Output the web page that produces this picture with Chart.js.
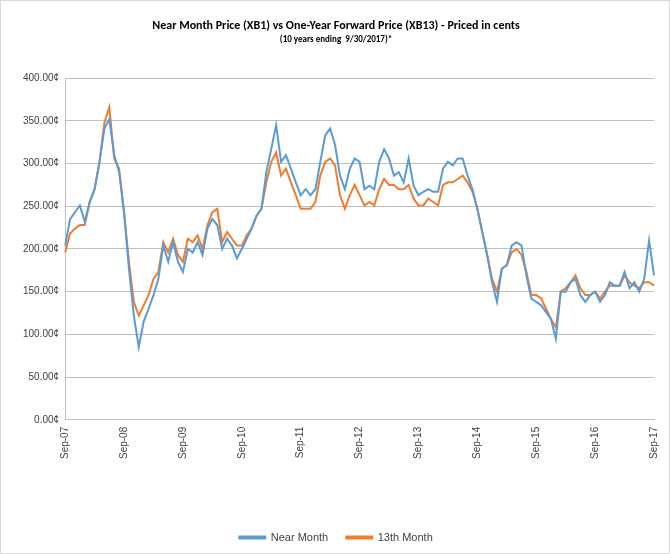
<!DOCTYPE html>
<html>
<head>
<meta charset="utf-8">
<script src="https://cdn.jsdelivr.net/npm/chart.js@4/dist/chart.umd.min.js"></script>
<style>
  body { margin: 0; background: #fff; }
  #wrap { position: absolute; left: 0; top: 0; width: 668px; height: 552px; border: 1px solid #d9d9d9; }
</style>
</head>
<body>
<div id="wrap"><canvas id="c" width="668" height="552"></canvas></div>
<script>
// monthly readings, Sep-07 .. Sep-17 (cents)
const nearMonth = [204, 235, 243, 251, 232, 255, 270, 302, 341, 352, 310, 290, 243, 177, 122, 85, 115, 130, 146, 165,
  204, 185, 208, 185, 173, 200, 196, 208, 193, 224, 235, 228, 200, 212, 204, 189, 200, 212, 224, 239,
  247, 290, 317, 345, 302, 310, 294, 278, 263, 270, 263, 270, 302, 333, 341, 322, 286, 270, 294, 306,
  302, 270, 274, 270, 302, 317, 306, 286, 290, 278, 306, 274, 263, 267, 270, 267, 267, 294, 302, 298,
  306, 306, 286, 270, 247, 220, 193, 161, 138, 177, 181, 204, 208, 204, 169, 142, 138, 134, 126, 118,
  95, 150, 150, 161, 165, 146, 138, 146, 150, 138, 146, 161, 157, 157, 173, 154, 161, 150, 165, 210, 169];
const month13 = [196, 218, 224, 228, 228, 255, 270, 302, 348, 366, 306, 294, 243, 185, 138, 122, 134, 146, 165, 173,
  208, 196, 212, 193, 185, 212, 208, 216, 200, 228, 243, 247, 208, 220, 212, 204, 204, 216, 224, 239,
  247, 278, 302, 313, 286, 294, 278, 263, 247, 247, 247, 255, 286, 302, 306, 298, 263, 247, 263, 275,
  263, 251, 255, 251, 270, 282, 275, 275, 270, 270, 275, 259, 251, 251, 259, 255, 251, 275, 278, 278,
  282, 286, 278, 267, 247, 220, 193, 165, 150, 177, 181, 196, 200, 193, 173, 146, 146, 142, 130, 118,
  108, 150, 154, 161, 169, 154, 146, 146, 150, 142, 150, 157, 157, 157, 169, 161, 157, 154, 161, 161, 157];
const monthNames = ['Sep', 'Oct', 'Nov', 'Dec', 'Jan', 'Feb', 'Mar', 'Apr', 'May', 'Jun', 'Jul', 'Aug'];
const labels = nearMonth.map((_, i) => monthNames[i % 12] + '-' + String(7 + Math.floor((i + 8) / 12)).padStart(2, '0'));

new Chart(document.getElementById('c'), {
  type: 'line',
  data: {
    labels: labels,
    datasets: [
      { label: 'Near Month', data: nearMonth, borderColor: '#5b9bd5', borderWidth: 2, pointRadius: 0, tension: 0 },
      { label: '13th Month', data: month13, borderColor: '#ed7d31', borderWidth: 2, pointRadius: 0, tension: 0 }
    ]
  },
  options: {
    responsive: false,
    animation: false,
    layout: { padding: { left: 16, right: 14, top: 4, bottom: 0 } },
    plugins: {
      title: {
        display: true,
        text: 'Near Month Price (XB1) vs One-Year Forward Price (XB13) - Priced in cents',
        font: { family: 'Calibri, Carlito, "Liberation Sans"', size: 12, weight: 'bold' },
        color: '#000', padding: { top: 14, bottom: 0 }
      },
      subtitle: {
        display: true,
        text: '(10 years ending  9/30/2017)*',
        font: { family: 'Calibri, Carlito, "Liberation Sans"', size: 9, weight: 'bold' },
        color: '#000', padding: { top: 1, bottom: 33 }
      },
      legend: {
        position: 'bottom',
        labels: { boxWidth: 26, boxHeight: 2, font: { family: '"Liberation Sans"', size: 11 }, color: '#404040', padding: 18 }
      }
    },
    scales: {
      x: {
        offset: false,
        afterFit: function (scale) { scale.height += 52; },
        grid: { display: false, drawTicks: true, tickLength: 4 },
        border: { color: '#bfbfbf' },
        ticks: {
          autoSkip: false, maxRotation: 90, minRotation: 90,
          font: { family: '"Liberation Sans"', size: 10 }, color: '#404040',
          callback: function (v, i) { return i % 12 === 0 ? labels[i] : null; }
        }
      },
      y: {
        min: 0, max: 400,
        grid: { color: '#bfbfbf', drawTicks: false },
        border: { display: true, color: '#bfbfbf' },
        ticks: {
          stepSize: 50, padding: 6,
          font: { family: '"Liberation Sans"', size: 10 }, color: '#404040',
          callback: v => v.toFixed(2) + '¢'
        }
      }
    }
  }
});
</script>
</body>
</html>
